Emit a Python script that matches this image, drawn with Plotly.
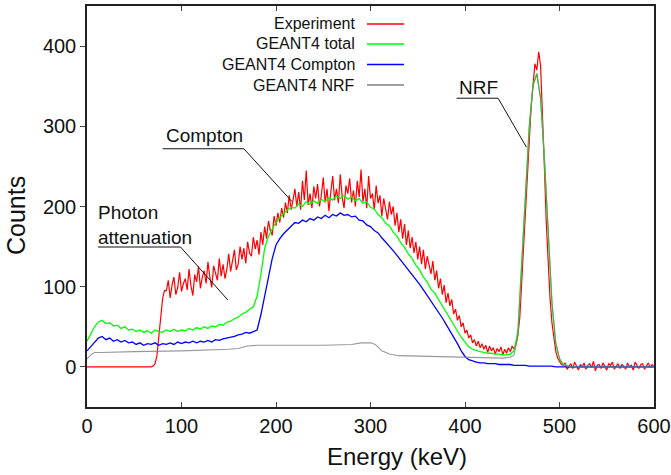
import plotly.graph_objects as go

# ---------------- data ----------------
exp_counts = (
    [0] * 35 +
    [1, 4, 14, 35, 62, 85, 95] +
    [95, 108, 86, 102, 112, 90, 99, 118, 94, 104,
     110, 96, 122, 101, 89, 115, 106, 125, 98, 112,
     120, 104, 131, 112, 99, 126, 117, 108, 135, 113,
     128, 110, 122, 141, 119, 132, 146, 121, 128, 150,
     134, 148, 129, 156, 142, 138, 162, 147, 158, 140,
     168, 152, 175, 160, 182, 170, 164, 188, 176, 192,
     180, 198, 186, 205, 192, 214, 196, 208, 222, 200,
     218, 196, 232, 208, 245, 202, 216, 198, 225, 210,
     228, 200, 214, 236, 205, 222, 194, 218, 238, 208,
     222, 204, 240, 212, 198, 226, 216, 235, 205, 220,
     200, 232, 212, 246, 206, 222, 198, 238, 210, 216,
     196, 226, 204, 214, 188, 210, 198, 184, 206, 190,
     200, 176, 192, 168, 184, 160, 178, 152, 170, 148,
     162, 142, 156, 134, 150, 128, 146, 122, 138, 126,
     116, 132, 108, 120, 98, 110, 90, 102, 80, 92,
     76, 84, 66, 72, 58, 64, 50, 55, 42, 46,
     36, 40, 30, 34, 26, 32, 24, 29, 22, 27,
     18, 26, 20, 24, 16, 23, 19, 25, 15, 22,
     17, 24, 19, 26, 22, 28] +
    [40, 62, 105, 150, 195, 240, 285, 325, 352, 378, 370, 393, 375, 318, 250, 180, 125, 85, 55,
     35, 20, 11, 6, 3] +
    [2, 5, -3, 1, 4, -2, 6, 1, -4, 3, 0, 5, -3, 2, 4, -1, 7, -5, 2, 3, -2, 5, 0, -4, 4, 2, 6,
     -3, 1, 4, -2, 3, 1, -3, 5, 0, 2, -4, 6, 1, -2, 3, 4, -3, 2, 5, -1, 3, 0]
)
exp_energy = [2 * i for i in range(len(exp_counts))]

total_counts = (
    [32, 42, 50, 56, 58, 54, 55, 51, 52, 48, 50, 46, 47, 44, 46, 43, 45, 42, 46, 44, 43, 46, 44,
     47, 44, 46, 45, 48, 46, 49, 47, 50, 48, 51, 50, 53, 52, 56, 57, 60, 62, 66, 68, 72, 75, 88,
     115, 148, 163, 172, 180, 186, 191, 196, 199, 198, 203, 200, 206, 203, 207, 204, 209, 206, 211,
     208, 213, 210, 214, 209, 212, 207, 210, 204, 206, 199, 197, 190, 186, 179, 176, 168, 163, 155,
     149, 141, 135, 127, 121, 112, 106, 97, 92, 84, 77, 68, 61, 52, 45, 37, 31, 25, 22, 20, 19, 18,
     17, 17, 16, 16, 15, 15, 16, 20, 45, 130, 220, 300, 352, 366, 335, 260, 170, 80, 30, 10, 3, 1] +
    [0] * 23
)
compton_counts = (
    [20, 25, 31, 36, 38, 34, 36, 32, 34, 31, 33, 30, 31, 28, 30, 27, 29, 28, 30, 27, 29, 28, 30,
     28, 31, 29, 31, 30, 32, 30, 32, 31, 33, 31, 34, 33, 35, 36, 37, 38, 40, 41, 43, 42, 44, 46, 65,
     90, 112, 135, 152, 160, 166, 171, 176, 180, 179, 183, 181, 185, 183, 187, 185, 189, 186, 190,
     188, 192, 189, 190, 187, 188, 183, 182, 177, 175, 170, 167, 161, 156, 150, 145, 139, 133, 127,
     121, 116, 109, 103, 96, 89, 82, 76, 68, 61, 53, 45, 38, 29, 20, 13, 9, 7, 6, 5, 5, 4, 4, 4, 3,
     3, 3, 3, 2, 2, 2, 2, 1, 1, 1, 1, 1, 1, 1] +
    [0] * 27
)
sim_energy = [4 * i for i in range(len(total_counts))]
compton_energy = [4 * i for i in range(len(compton_counts))]

nrf_energy = [0, 4, 8, 15, 50, 100, 150, 160, 170, 180, 200, 250, 280, 290, 300, 305, 312, 320,
              330, 360, 400, 440, 448, 452, 456, 460, 464, 468, 472, 476, 480, 484, 488, 492, 496,
              500, 504, 508, 520, 600]
nrf_counts = [10, 15, 18, 18, 19, 20, 22, 23, 26, 27, 27, 27, 28, 30, 30, 28, 20, 16, 14, 13, 12,
              11, 12, 15, 40, 127, 217, 298, 350, 365, 334, 259, 169, 80, 30, 10, 3, 1, 0, 0]

series_names = ["Experiment", "GEANT4 total", "GEANT4 Compton", "GEANT4 NRF"]
series_colors = ["#ff0000", "#00ff00", "#0000ff", "#808080"]

x_ticks = [0, 100, 200, 300, 400, 500, 600]
y_ticks = [0, 100, 200, 300, 400]

FONT = "Liberation Sans, Arial, sans-serif"

fig = go.Figure()
fig.add_trace(go.Scatter(x=exp_energy, y=exp_counts, mode="lines", name=series_names[0],
                         line=dict(color=series_colors[0], width=1.2)))
fig.add_trace(go.Scatter(x=sim_energy, y=total_counts, mode="lines", name=series_names[1],
                         line=dict(color=series_colors[1], width=1.3)))
fig.add_trace(go.Scatter(x=compton_energy, y=compton_counts, mode="lines", name=series_names[2],
                         line=dict(color=series_colors[2], width=1.3)))
fig.add_trace(go.Scatter(x=nrf_energy, y=nrf_counts, mode="lines", name=series_names[3],
                         line=dict(color=series_colors[3], width=1.1), opacity=0.8))

W, H = 671, 475
L, R, T, B = 87, 17, 6, 68
pw, ph = W - L - R, H - T - B


def px2paper(px, py):
    return (px - L) / pw, (H - B - py) / ph


annotations = []
shapes = []

# custom legend: text right-aligned, line sample on the right
leg_rows = [24, 44, 64.5, 85]
for name, col, py in zip(series_names, series_colors, leg_rows):
    xp, yp = px2paper(357, py)
    annotations.append(dict(x=xp, y=yp, xref="paper", yref="paper", text=name, showarrow=False,
                            xanchor="right", yanchor="middle",
                            font=dict(family=FONT, size=16, color="#111")))
    x0, y0 = px2paper(367, py)
    x1, _ = px2paper(404, py)
    shapes.append(dict(type="line", xref="paper", yref="paper", x0=x0, x1=x1, y0=y0, y1=y0,
                       line=dict(color=col, width=1.5)))

# labels with leader lines (data coords)
labels = [
    ("Photon<br>attenuation", 9.5, 177),
    ("Compton", 81, 288),
    ("NRF", 392, 348),
]
for txt, lx, ly in labels:
    annotations.append(dict(x=lx, y=ly, xref="x", yref="y", text=txt, showarrow=False,
                            xanchor="left", yanchor="middle", align="left",
                            font=dict(family=FONT, size=19, color="#111")))

leaders = [
    [(11.6, 149.5), (99, 149.5), (149, 83.5)],
    [(80, 272), (166, 272), (217, 206)],
    [(391, 335), (435, 335), (465, 274)],
]
for pts in leaders:
    for (xa, ya), (xb, yb) in zip(pts[:-1], pts[1:]):
        shapes.append(dict(type="line", xref="x", yref="y", x0=xa, y0=ya, x1=xb, y1=yb,
                           line=dict(color="#111", width=1)))

# axis titles as annotations for exact placement
xa_, ya_ = px2paper(397, 456)
annotations.append(dict(x=xa_, y=ya_, xref="paper", yref="paper", text="Energy (keV)",
                        showarrow=False, xanchor="center", yanchor="middle",
                        font=dict(family=FONT, size=24, color="#111")))
xa_, ya_ = px2paper(16, 216)
annotations.append(dict(x=xa_, y=ya_, xref="paper", yref="paper", text="Counts", textangle=-90,
                        showarrow=False, xanchor="center", yanchor="middle",
                        font=dict(family=FONT, size=25, color="#111")))

fig.update_layout(
    width=W, height=H,
    margin=dict(l=L, r=R, t=T, b=B),
    paper_bgcolor="white", plot_bgcolor="white",
    showlegend=False,
    annotations=annotations,
    shapes=shapes,
    font=dict(family=FONT, color="#111"),
)
fig.update_xaxes(range=[0, 600], tickvals=x_ticks, ticks="inside", ticklen=5, tickcolor="#444",
                 showline=True, linecolor="#222", linewidth=1.5, mirror="ticks",
                 showgrid=False, zeroline=False, tickfont=dict(size=20, family=FONT),
                 ticklabeloverflow="allow", automargin=False)
fig.update_yaxes(range=[-50, 450], tickvals=y_ticks, ticks="outside", ticklen=5, tickcolor="#444",
                 showline=True, linecolor="#222", linewidth=1.5, mirror=True,
                 showgrid=False, zeroline=False, tickfont=dict(size=20, family=FONT),
                 automargin=False)

fig.write_html("out.html", config={"displayModeBar": False},
               post_script="document.body.style.margin='0';document.body.style.padding='0';")
